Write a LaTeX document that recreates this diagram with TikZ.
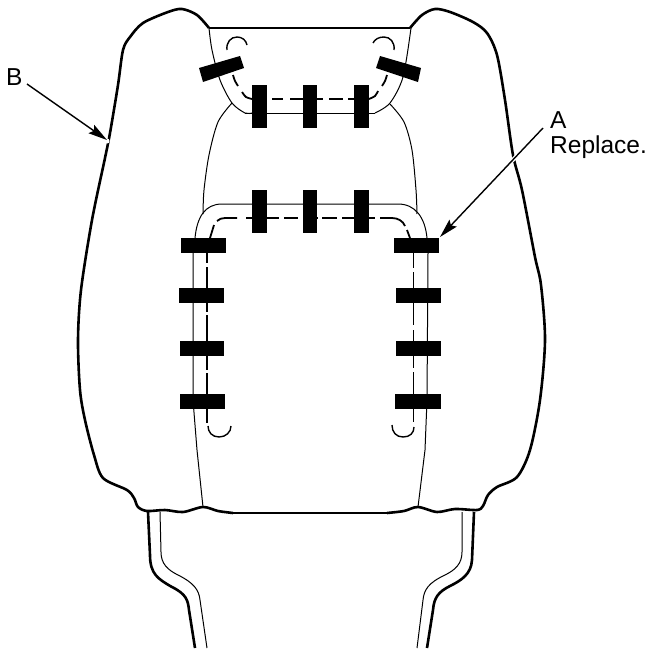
\documentclass[tikz,border=0pt]{standalone}
\usepackage{fontspec}
\setmainfont{Liberation Sans}
\usetikzlibrary{arrows.meta,calc}
\tikzset{
  heavy/.style={draw=black,line width=2.6pt,line join=round,line cap=butt},
  thin line/.style={draw=black,line width=1pt},
  hookline/.style={draw=black,line width=1.4pt},
  dashline/.style={draw=black,line width=1.8pt},
  clamp/.style={fill=black,draw=none},
  lbl/.style={inner sep=0pt,anchor=base west,font=\fontsize{24.5}{27}\selectfont},
  pointer/.style={draw=black,line width=1.4pt,-{Stealth[length=19pt,width=10pt,inset=3pt]},shorten >=0pt},
  sm/.style={smooth,tension=0.5}
}
\begin{document}
\begin{tikzpicture}[x=1pt,y=-1pt]
\useasboundingbox[fill=white] (0,0) rectangle (672,656);
% outer cushion outline
\draw[heavy] plot[sm] coordinates {(209,28) (197,15) (182,9) (168,12) (143,23) (130,37) (123,50) (118,85) (110,133) (105,158) (92,220) (81,290) (78,340) (80,390) (85,420) (94,455) (103,478) (127,490) (134,498) (138,507) (147,511) (165,510) (183,512) (203,507) (218,511) (233,513)};
\draw[heavy] (233,513) -- (387,513);
\draw[heavy] plot[sm] coordinates {(387,513) (404,511) (418,507) (437,512) (455,509) (477,510) (483,506) (488,495) (497,487) (517,477) (530,450) (540,400) (545,340) (541,285) (535,257) (522,190) (513,155) (505,100) (497,55) (487,33) (473,22) (450,12) (435,9) (422,15) (410,28)};
% top edge
\draw[heavy,line width=2.4pt] (209,28) -- (308,28);
\draw[thin line,line width=1.6pt] (308,28) -- (410,28);
% neck
\draw[heavy] (148,512) -- (150,555) .. controls (150,574) and (158,579) .. (172,587) .. controls (186,594) and (188,600) .. (189,610) -- (195,648);
\draw[thin line] (160,512) -- (161,552) .. controls (161,564) and (168,570) .. (178,575) .. controls (194,583) and (199,590) .. (200,600) -- (207,648);
\draw[heavy] (474,512) -- (472,560) .. controls (471,574) and (462,580) .. (450,586) .. controls (438,592) and (434,598) .. (433,610) -- (427,648);
\draw[thin line] (462,512) -- (462,552) .. controls (462,564) and (455,570) .. (445,575) .. controls (428,583) and (424,590) .. (423,600) -- (417,648);
% upper channel
\draw[thin line] plot[sm] coordinates {(209,28) (212,50) (220,80) (232,103) (245,113) (252,113)};
\draw[thin line] (245,113) -- (375,113);
\draw[thin line] plot[sm] coordinates {(375,113) (390,103) (403,77) (411,28)};
% panel sides
\draw[thin line] plot[sm] coordinates {(232,103) (218,122) (209,155) (204,190) (203,214)};
\draw[thin line] plot[sm] coordinates {(390,104) (404,122) (412,150) (416,190) (417,214)};
% lower channel
\draw[thin line] (195,238) .. controls (197,217) and (205,204) .. (222,204) -- (398,204) .. controls (415,204) and (425,217) .. (427,238);
\draw[thin line] (193,253) -- (193,400) -- (197,450) -- (203,507);
\draw[thin line] (428,253) -- (427,400) -- (425,450) -- (418,507);
% dashed upper
\draw[dashline] (272,99) -- (283,99) (290,99) -- (303,99) (317,99) -- (323,99) (329,99) -- (343,99) (348,99) -- (354,99);
\draw[dashline] plot[sm] coordinates {(233,75) (235,81) (238,86)};
\draw[dashline] plot[sm] coordinates {(242,92) (246,97) (252,99)};
\draw[dashline] plot[sm] coordinates {(387,75) (385,81) (382,86)};
\draw[dashline] plot[sm] coordinates {(378,91) (375,96) (369,99)};
% dashed lower
\draw[dashline] (214,225) -- (210,238);
\draw[dashline] (217,221) .. controls (219,219) and (222,218) .. (225,218) -- (237,218) (246,218) -- (252,218);
\draw[dashline] (267,218) -- (279,218) (284,218) -- (298,218) (303,218) -- (303,218) (317,218) -- (318,218) (322,218) -- (337,218) (342,218) -- (354,218) (369,218) -- (375,218) (380,218) -- (392,218);
\draw[dashline] (392,218) .. controls (398,218) and (403,221) .. (405,226);
\draw[dashline] (407,230) -- (410,238);
% side dashes
\draw[dashline] (207,253) -- (207,263) (207,267) -- (207,288) (207,303) -- (207,312) (207,315) -- (207,341) (207,356) -- (207,370) (207,373) -- (207,394) (207,409) -- (207,423);
\draw[dashline] (413.5,253) -- (413.5,268) (413.5,272) -- (413.5,288) (413.5,303) -- (413.5,325) (413.5,330) -- (413.5,341) (413.5,356) -- (413.5,368) (413.5,372) -- (413.5,394) (413.5,409) -- (413.5,422);
% hooks
\draw[hookline] (227,50) .. controls (226,42) and (231,37) .. (237,37) .. controls (242,37) and (246,40) .. (247,45);
\draw[hookline] (394,50) .. controls (395,42) and (390,37) .. (384,37) .. controls (379,37) and (375,39) .. (373,43);
\draw[hookline] (208,426) .. controls (208,432) and (212,437) .. (219,437) .. controls (226,437) and (231,432) .. (231,426);
\draw[hookline] (414,427) .. controls (414,433) and (410,437) .. (403,437) .. controls (396,437) and (392,432) .. (392,425);
% clamps
\foreach \x/\w in {252/15,303/14,354/15} {
  \fill[clamp] (\x,85) rectangle ++(\w,43);
  \fill[clamp] (\x,190) rectangle ++(\w,43);
}
\fill[clamp] (199,68) -- (240,56) -- (244,68) -- (203,82) -- cycle;
\fill[clamp] (380,56) -- (421,68) -- (418,82) -- (376,68) -- cycle;
\fill[clamp] (181,238) rectangle (226,253);
\fill[clamp] (179,288) rectangle (224,303);
\fill[clamp] (180,341) rectangle (224,356);
\fill[clamp] (180,394) rectangle (225,409);
\fill[clamp] (394,238) rectangle (439,253);
\fill[clamp] (396,288) rectangle (441,303);
\fill[clamp] (396,341) rectangle (441,356);
\fill[clamp] (395,394) rectangle (441,409);
% labels
\node[lbl] (labB) at (6,85) {B};
\node[lbl] (labA) at (550,128) {A};
\node[lbl] (labR) at (550,153) {Replace.};
\coordinate (startB) at (27,84);
\coordinate (tipB) at (107,140);
\coordinate (startA) at (543,128);
\coordinate (tipA) at (440,237);
% halo where the pointer crosses the outline
\draw[white,line width=4pt] ($(startA)!0.25!(tipA)$) -- ($(startA)!0.30!(tipA)$);
\fill[white] (107,141) circle (2.5pt);
\draw[pointer] (startB) -- (tipB);
\draw[pointer] (startA) -- (tipA);
\end{tikzpicture}
\end{document}
